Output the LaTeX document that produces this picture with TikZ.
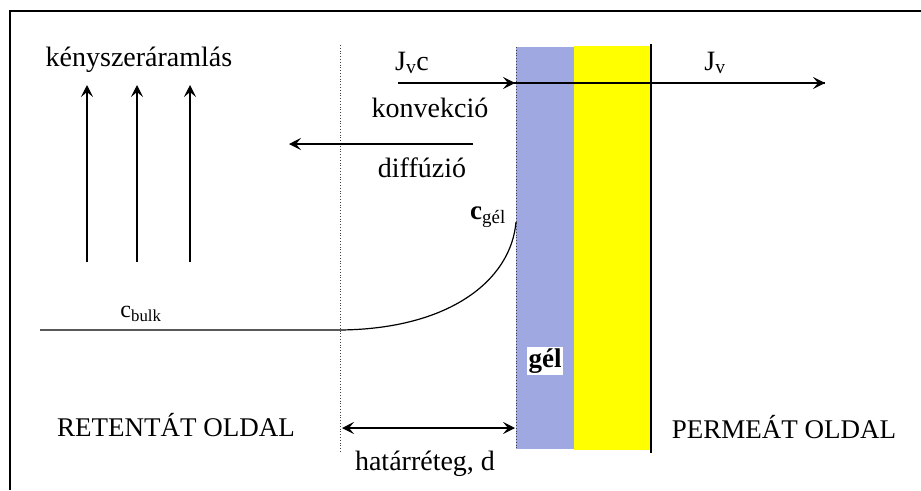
\documentclass[tikz,border=0pt]{standalone}
\usepackage{fontspec}
\setmainfont{Liberation Serif}
\usetikzlibrary{arrows.meta}
\definecolor{gelblue}{RGB}{160,168,226}
\definecolor{memyellow}{RGB}{255,255,0}
\tikzset{
  flow/.style={line width=1.2pt,-{Stealth[length=12pt,width=12pt,inset=5pt]}},
  both/.style={line width=1.2pt,{Stealth[length=12pt,width=12pt,inset=5pt]}-{Stealth[length=12pt,width=12pt,inset=5pt]}},
  dotline/.style={line width=0.8pt,dotted,black!75},
  lbl/.style={inner sep=0pt,font=\fontsize{28}{30}\selectfont},
  biglbl/.style={inner sep=0pt,font=\fontsize{27}{30}\selectfont}
}
\begin{document}
\begin{tikzpicture}[x=1pt,y=-1pt]
\useasboundingbox (0,0) rectangle (921,490);
% frame
\draw[line width=1.3pt] (10,490) -- (10,11) -- (921,11);
% gel and membrane
\fill[gelblue] (516,47) rectangle (574,449);
\fill[memyellow] (574,46) rectangle (651,450);
\draw[line width=1.3pt] (651,44) -- (651,453);
\draw[dotline] (516,47) -- (516,449);
\draw[dotline] (340,45) -- (340,453);
% gel label
\node[fill=white,inner sep=2pt,font=\bfseries\fontsize{27}{29}\selectfont] (gel) at (545,361) {gél};
% coordinates
\coordinate (jvs) at (398,83);
\coordinate (gelL) at (515,83);
\coordinate (jve) at (825,83);
\coordinate (ds) at (473,144);
\coordinate (de) at (289,144);
\coordinate (bulkS) at (40,330);
\coordinate (bulkE) at (340,330);
\coordinate (gelC) at (516,222);
\coordinate (hL) at (342,428);
\coordinate (hR) at (515,428);
% flux arrows
\draw[line width=1.2pt] (jvs) -- (jve);
\draw[flow] (jvs) -- (gelL);
\draw[flow] (gelL) -- (jve);
\draw[flow] (ds) -- (de);
% forced flow arrows
\foreach \x/\n in {87/a,137/b,190/c}{
  \coordinate (u\n s) at (\x,262);
  \coordinate (u\n e) at (\x,85);
  \draw[flow] (u\n s) -- (u\n e);
}
% concentration profile
\draw[line width=1.2pt] (bulkS) -- (bulkE) .. controls (450,329) and (511,280) .. (gelC);
% boundary layer
\draw[both] (hL) -- (hR);
% labels
\node[lbl] (kenysz) at (139,60) {kényszeráramlás};
\node[lbl] (jvc) at (412,63) {J\textsubscript{v}c};
\node[lbl] (jv) at (715,63) {J\textsubscript{v}};
\node[lbl] (konv) at (430,108) {konvekció};
\node[lbl] (diff) at (422,168) {diffúzió};
\node[inner sep=0pt] (cgel) at (488,217) {\fontsize{27}{29}\selectfont\textbf{c}\textsubscript{gél}};
\node[inner sep=0pt] (cbulk) at (141,314) {\fontsize{24}{26}\selectfont c\textsubscript{bulk}};
\node[biglbl] (ret) at (176,425) {RETENTÁT OLDAL};
\node[biglbl] (perm) at (784,427) {PERMEÁT OLDAL};
\node[lbl] (hat) at (425,464) {határréteg, d};
\end{tikzpicture}
\end{document}
